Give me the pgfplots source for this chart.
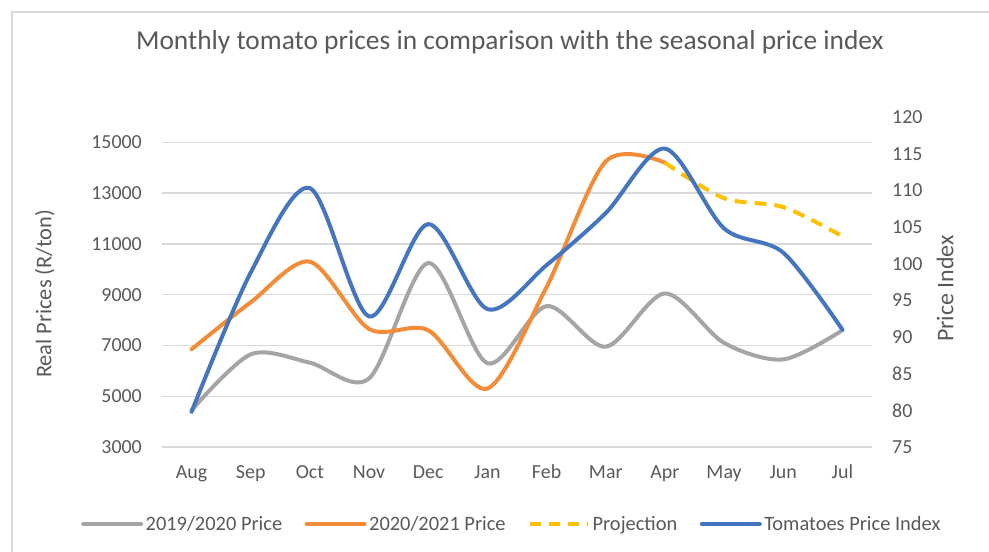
\documentclass[border=0pt]{standalone}
\usepackage{fontspec}
\setmainfont{Carlito}
\usepackage{pgfplots}
\pgfplotsset{compat=1.18}
\definecolor{cgray}{HTML}{A5A5A5}
\definecolor{corange}{HTML}{F28C38}
\definecolor{cyellow}{HTML}{FFC000}
\definecolor{cblue}{HTML}{4675C0}
\definecolor{txt}{HTML}{595959}
\definecolor{gridc}{HTML}{D9D9D9}
\begin{document}
\begin{tikzpicture}[x=1bp,y=1bp]
\useasboundingbox (0,0) rectangle (989,552);
\draw[color=gridc, line width=1.5bp] (12,-10) -- (12,540) -- (1000,540);
\begin{axis}[
  at={(162bp,105bp)}, anchor=south west,
  scale only axis, width=710bp, height=330bp,
  xmin=-0.5, xmax=11.5, ymin=3000, ymax=16000,
  axis y line*=left, axis x line*=bottom,
  axis line style={draw=none},
  major tick length=0pt,
  xtick={0,...,11},
  xticklabels={Aug,Sep,Oct,Nov,Dec,Jan,Feb,Mar,Apr,May,Jun,Jul},
  ytick={3000,5000,...,15000},
  scaled y ticks=false,
  ymajorgrids, grid style={color=gridc, line width=1.3bp},
  /pgf/number format/assume math mode=true,
  /pgf/number format/set thousands separator={},
  tick label style={font=\fontsize{20}{24}\selectfont, color=txt, inner sep=0pt},
  yticklabel style={xshift=-20bp},
  xticklabel style={yshift=-18bp, text height=13bp, text depth=4bp},
  ylabel={Real Prices (R/ton)},
  ylabel style={at={(axis description cs:-0.165,0.464)}, anchor=center, font=\fontsize{22.5}{26}\selectfont, color=txt},
  title={Monthly tomato prices in comparison with the seasonal price index},
  title style={at={(axis description cs:0.49,1.209)}, anchor=center, font=\fontsize{27.5}{32}\selectfont, color=txt},
  clip=false,
]
\addplot[color=cgray, line width=4bp, smooth, line cap=round] coordinates {
(0,4450) (1,6650) (2,6320) (3,5700) (4,10250) (5,6300) (6,8550) (7,6950) (8,9050) (9,7100) (10,6450) (11,7600)};
\addplot[color=corange, line width=4bp, smooth, line cap=round] coordinates {
(0,6850) (1,8700) (2,10300) (3,7650) (4,7600) (5,5300) (6,9300) (7,14250) (8,14200)};
\addplot[color=cyellow, line width=4bp, smooth, dash pattern=on 12bp off 8bp] coordinates {
(8,14200) (9,12800) (10,12450) (11,11300)};
\end{axis}
\begin{axis}[
  at={(162bp,105bp)}, anchor=south west,
  scale only axis, width=710bp, height=330bp,
  xmin=-0.5, xmax=11.5, ymin=75, ymax=120,
  axis y line*=right, axis x line=none,
  axis line style={draw=none},
  major tick length=0pt,
  ytick={75,80,...,120},
  /pgf/number format/assume math mode=true,
  tick label style={font=\fontsize{20}{24}\selectfont, color=txt, inner sep=0pt},
  yticklabel style={xshift=20bp},
  ylabel={Price Index},
  ylabel style={at={(axis description cs:1.103,0.48)}, anchor=center, rotate=0, font=\fontsize{24}{28}\selectfont, color=txt},
  legend columns=-1,
  legend image code/.code={\draw[#1] (0bp,0bp) -- (58bp,0bp);},
  legend style={at={(axis description cs:0.493,-0.233)}, anchor=center, draw=none, fill=none,
    font=\fontsize{20.5}{24}\selectfont, text=txt,
    nodes={inner sep=2.5bp},
    /tikz/every even column/.append style={column sep=20bp}},
  clip=false,
]
\addlegendimage{color=cgray, line width=4bp, line cap=round}
\addlegendentry{2019/2020 Price}
\addlegendimage{color=corange, line width=4bp, line cap=round}
\addlegendentry{2020/2021 Price}
\addlegendimage{color=cyellow, line width=4bp, dash pattern=on 11bp off 8bp}
\addlegendentry{Projection}
\addplot[color=cblue, line width=4bp, smooth, line cap=round] coordinates {
(0,79.8) (1,98.8) (2,110.3) (3,92.8) (4,105.4) (5,93.8) (6,99.8) (7,106.9) (8,115.7) (9,104.8) (10,101.5) (11,91.0)};
\addlegendentry{Tomatoes Price Index}
\end{axis}
\end{tikzpicture}
\end{document}
